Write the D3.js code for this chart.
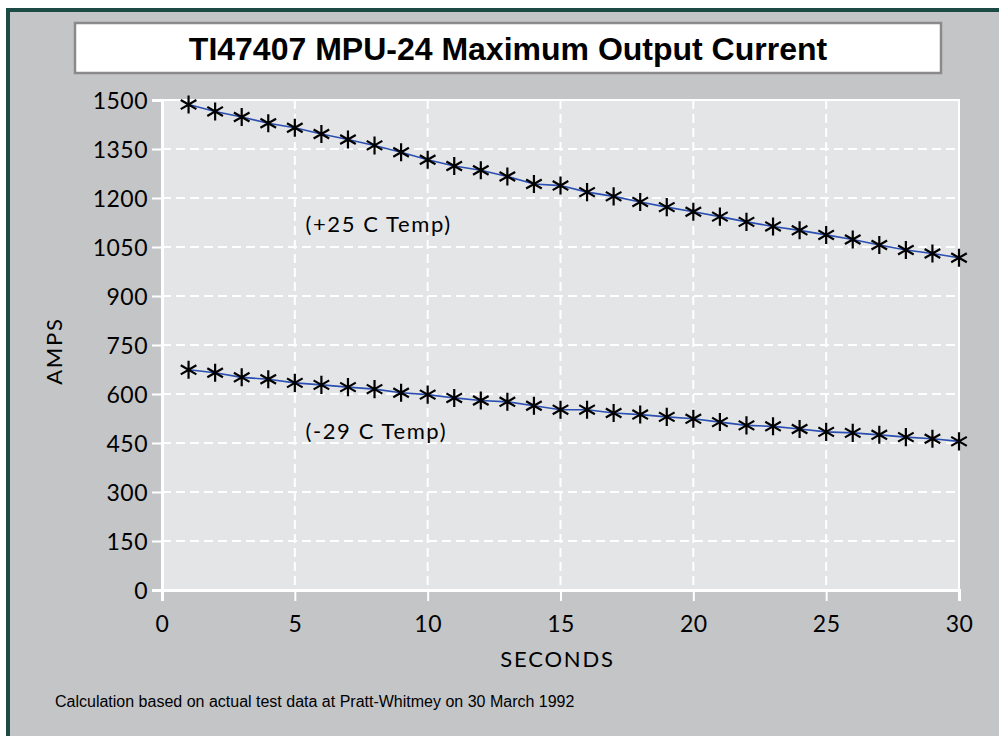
<!DOCTYPE html>
<html>
<head>
<meta charset="utf-8">
<script src="https://cdn.jsdelivr.net/npm/d3@7"></script>
<style>
  body { margin: 0; background: #fff; }
  svg { display: block; }
</style>
</head>
<body>
<div id="chart"></div>
<script>
// seconds 1..30
const seconds = d3.range(1, 31);
const warmAmps = [1486, 1465, 1448, 1429, 1415, 1396, 1379, 1361, 1340, 1317,
                  1298, 1285, 1266, 1243, 1238, 1218, 1205, 1188, 1172, 1158,
                  1143, 1127, 1113, 1101, 1087, 1073, 1056, 1041, 1030, 1017];
const coldAmps = [674, 665, 651, 645, 634, 628, 621, 615, 604, 598,
                  588, 580, 576, 564, 552, 552, 542, 537, 530, 524,
                  514, 504, 501, 493, 484, 481, 475, 468, 463, 455];
const xTicks = [0, 5, 10, 15, 20, 25, 30];
const yTicks = d3.range(0, 1501, 150);
const labels = [
  {text: "(+25 C Temp)", x: 5.4, y: 1120},
  {text: "(-29 C Temp)", x: 5.4, y: 486}
];

const width = 999, height = 736;
const tickFont = "Lato, 'Open Sans', sans-serif";

const svg = d3.select("#chart").append("svg")
    .attr("width", width)
    .attr("height", height);

// frame
svg.append("rect")
    .attr("x", 6).attr("y", 8)
    .attr("width", width).attr("height", height)
    .attr("fill", "#c4c5c7");
svg.append("path")
    .attr("d", `M8,${height} V10 H${width}`)
    .attr("fill", "none")
    .attr("stroke", "#1c4a45")
    .attr("stroke-width", 4);

// title box
svg.append("rect")
    .attr("x", 75).attr("y", 23)
    .attr("width", 866).attr("height", 50)
    .attr("fill", "#fff")
    .attr("stroke", "#8a8a8a")
    .attr("stroke-width", 2.5);
svg.append("text")
    .attr("x", 508).attr("y", 60)
    .attr("text-anchor", "middle")
    .attr("font-family", "'Liberation Sans', Arial, sans-serif")
    .attr("font-weight", "bold")
    .attr("font-size", 32)
    .text("TI47407 MPU-24 Maximum Output Current");

const x = d3.scaleLinear().domain([0, 30]).range([162, 959]);
const y = d3.scaleLinear().domain([0, 1500]).range([590, 100]);

// plot background
svg.append("rect")
    .attr("x", x(0)).attr("y", y(1500))
    .attr("width", x(30) - x(0)).attr("height", y(0) - y(1500))
    .attr("fill", "#e4e5e7");

// dashed grid
const grid = svg.append("g")
    .attr("stroke", "#fff")
    .attr("stroke-width", 2)
    .attr("stroke-dasharray", "9,5");
grid.selectAll("line.h")
  .data(yTicks.filter(d => d > 0 && d < 1500))
  .join("line")
    .attr("class", "h")
    .attr("x1", x(0)).attr("x2", x(30))
    .attr("y1", d => y(d)).attr("y2", d => y(d));
grid.selectAll("line.v")
  .data(xTicks.filter(d => d > 0 && d < 30))
  .join("line")
    .attr("class", "v")
    .attr("x1", d => x(d)).attr("x2", d => x(d))
    .attr("y1", y(1500)).attr("y2", y(0));

// solid border
svg.append("rect")
    .attr("x", x(0)).attr("y", y(1500))
    .attr("width", x(30) - x(0)).attr("height", y(0) - y(1500))
    .attr("fill", "none")
    .attr("stroke", "#fff")
    .attr("stroke-width", 2);

// axes
const yAxis = svg.append("g")
    .attr("transform", `translate(${x(0)},0)`)
    .call(d3.axisLeft(y).tickValues(yTicks).tickSize(10).tickPadding(4).tickFormat(d3.format("d")));
const xAxis = svg.append("g")
    .attr("transform", `translate(0,${y(0)})`)
    .call(d3.axisBottom(x).tickValues(xTicks).tickSize(11).tickPadding(15).tickFormat(d3.format("d")));
[yAxis, xAxis].forEach(ax => {
  ax.select(".domain").attr("stroke", "#fff").attr("stroke-width", 3);
  ax.selectAll(".tick line").attr("stroke", "#fff").attr("stroke-width", 2);
  ax.selectAll(".tick text")
      .attr("fill", "#000")
      .attr("font-family", tickFont)
      .attr("font-size", 23)
      .attr("letter-spacing", 0.5);
});
yAxis.selectAll(".tick text").attr("dy", "0.36em");

// axis titles
svg.append("text")
    .attr("x", (x(0) + x(30)) / 2 - 3).attr("y", 667)
    .attr("text-anchor", "middle")
    .attr("font-family", tickFont)
    .attr("font-size", 22)
    .attr("letter-spacing", 1.8)
    .text("SECONDS");
svg.append("text")
    .attr("transform", `translate(62,${(y(0) + y(1500)) / 2 + 6}) rotate(-90)`)
    .attr("text-anchor", "middle")
    .attr("font-family", tickFont)
    .attr("font-size", 22)
    .attr("letter-spacing", 1.8)
    .text("AMPS");

// series
const line = d3.line().x((d, i) => x(seconds[i])).y(d => y(d));
const asterisk = d3.symbol(d3.symbolAsterisk, 230);

[warmAmps, coldAmps].forEach(series => {
  svg.append("path")
      .datum(series)
      .attr("d", line)
      .attr("fill", "none")
      .attr("stroke", "#2a4fb0")
      .attr("stroke-width", 1.6);
  svg.append("g")
    .selectAll("path")
    .data(series)
    .join("path")
      .attr("transform", (d, i) => `translate(${x(seconds[i])},${y(d)})`)
      .attr("d", asterisk)
      .attr("fill", "none")
      .attr("stroke", "#000")
      .attr("stroke-width", 2.2);
});

// series labels
svg.append("g")
  .selectAll("text")
  .data(labels)
  .join("text")
    .attr("x", d => x(d.x))
    .attr("y", d => y(d.y))
    .attr("dy", "0.35em")
    .attr("font-family", tickFont)
    .attr("font-size", 22)
    .attr("letter-spacing", 1.6)
    .text(d => d.text);

// footnote
svg.append("text")
    .attr("x", 55).attr("y", 707)
    .attr("font-family", "'Liberation Sans', Arial, sans-serif")
    .attr("font-size", 16)
    .text("Calculation based on actual test data at Pratt-Whitmey on 30 March 1992");
</script>
</body>
</html>
